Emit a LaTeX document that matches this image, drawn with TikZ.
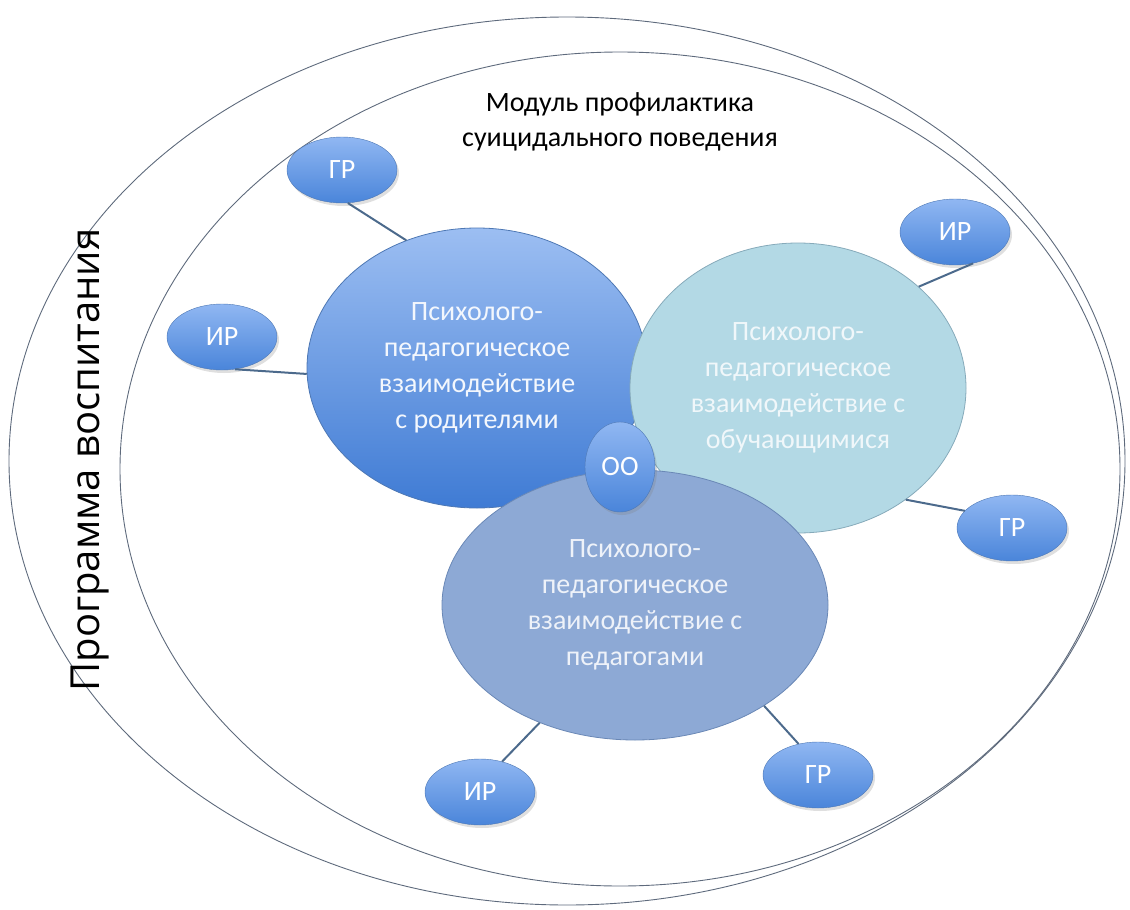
\documentclass[tikz,border=0pt]{standalone}
\usepackage{fontspec}
\setmainfont{Carlito}
\newfontfamily\progfont{Open Sans}
\usetikzlibrary{shapes.geometric,shadows}

\definecolor{ringgray}{HTML}{5E6A7C}
\definecolor{linkcol}{HTML}{4C6A8C}
\definecolor{partop}{HTML}{9CBEF2}
\definecolor{parbot}{HTML}{3F7BD4}
\definecolor{stufill}{HTML}{B3D9E5}
\definecolor{stuline}{HTML}{86AABA}
\definecolor{teafill}{HTML}{8DA9D5}
\definecolor{tealine}{HTML}{6A88B6}
\definecolor{smalltop}{HTML}{90B7F2}
\definecolor{smallbot}{HTML}{4A85DA}
\definecolor{smallline}{HTML}{4E78B4}

\begin{document}
\begin{tikzpicture}[x=1pt,y=-1pt,
  every node/.style={align=center, inner sep=0pt},
  ring/.style={ellipse, draw=ringgray, line width=0.9pt},
  big/.style={ellipse, line width=0.8pt, font=\fontsize{28}{36}\selectfont},
  small/.style={ellipse, minimum width=110pt, minimum height=66pt, draw=smallline,
    top color=smalltop, bottom color=smallbot, text=white,
    drop shadow={opacity=0.25, shadow xshift=2pt, shadow yshift=-3pt},
    font=\fontsize{28}{32}\selectfont},
  link/.style={draw=linkcol, line width=2pt}]
\useasboundingbox (0,0) rectangle (1130,910);

% two frames
\node[ring, minimum width=1116pt, minimum height=888pt] (prog) at (567,461) {};
\node[ring, minimum width=1000pt, minimum height=834pt] (mod) at (620,469) {};
\node[font=\progfont\fontsize{40}{44}\selectfont, rotate=90] (progtitle) at (90,460) {Программа воспитания};
\node[font=\fontsize{28}{35}\selectfont] (modtitle) at (620,122) {Модуль профилактика\\суицидального поведения};

% satellites
\node[small] (gr1) at (342,170) {ГР};
\node[small] (ir1) at (222,337) {ИР};
\node[small] (ir2) at (955,232) {ИР};
\node[small] (gr2) at (1012,528) {ГР};
\node[small] (ir3) at (480,792) {ИР};
\node[small] (gr3) at (818,775) {ГР};

% three spheres of interaction
\node[big, draw=smallline, top color=partop, bottom color=parbot, text=white!88!partop,
  minimum width=340pt, minimum height=280pt] (par) at (477,368)
  {Психолого-\\педагогическое\\взаимодействие\\с родителями};
\node[big, draw=stuline, fill=stufill, text=white!80!stufill,
  minimum width=336pt, minimum height=290pt] (stu) at (798,388)
  {Психолого-\\педагогическое\\взаимодействие с\\обучающимися};
\node[big, draw=tealine, fill=teafill, text=white!85!teafill,
  minimum width=386pt, minimum height=270pt] (tea) at (635,605)
  {Психолого-\\педагогическое\\взаимодействие с\\педагогами};
\node[small, minimum width=70pt, minimum height=90pt] (oo) at (620,467) {ОО};

% links
\draw[link] (gr1.-80) -- (par.119);
\draw[link] (ir1.-68) -- (par.182);
\draw[link] (ir2.-60) -- (stu.40);
\draw[link] (gr2.160) -- (stu.-46);
\draw[link] (ir3.54) -- (tea.231);
\draw[link] (gr3.122) -- (tea.-38);
\end{tikzpicture}
\end{document}
